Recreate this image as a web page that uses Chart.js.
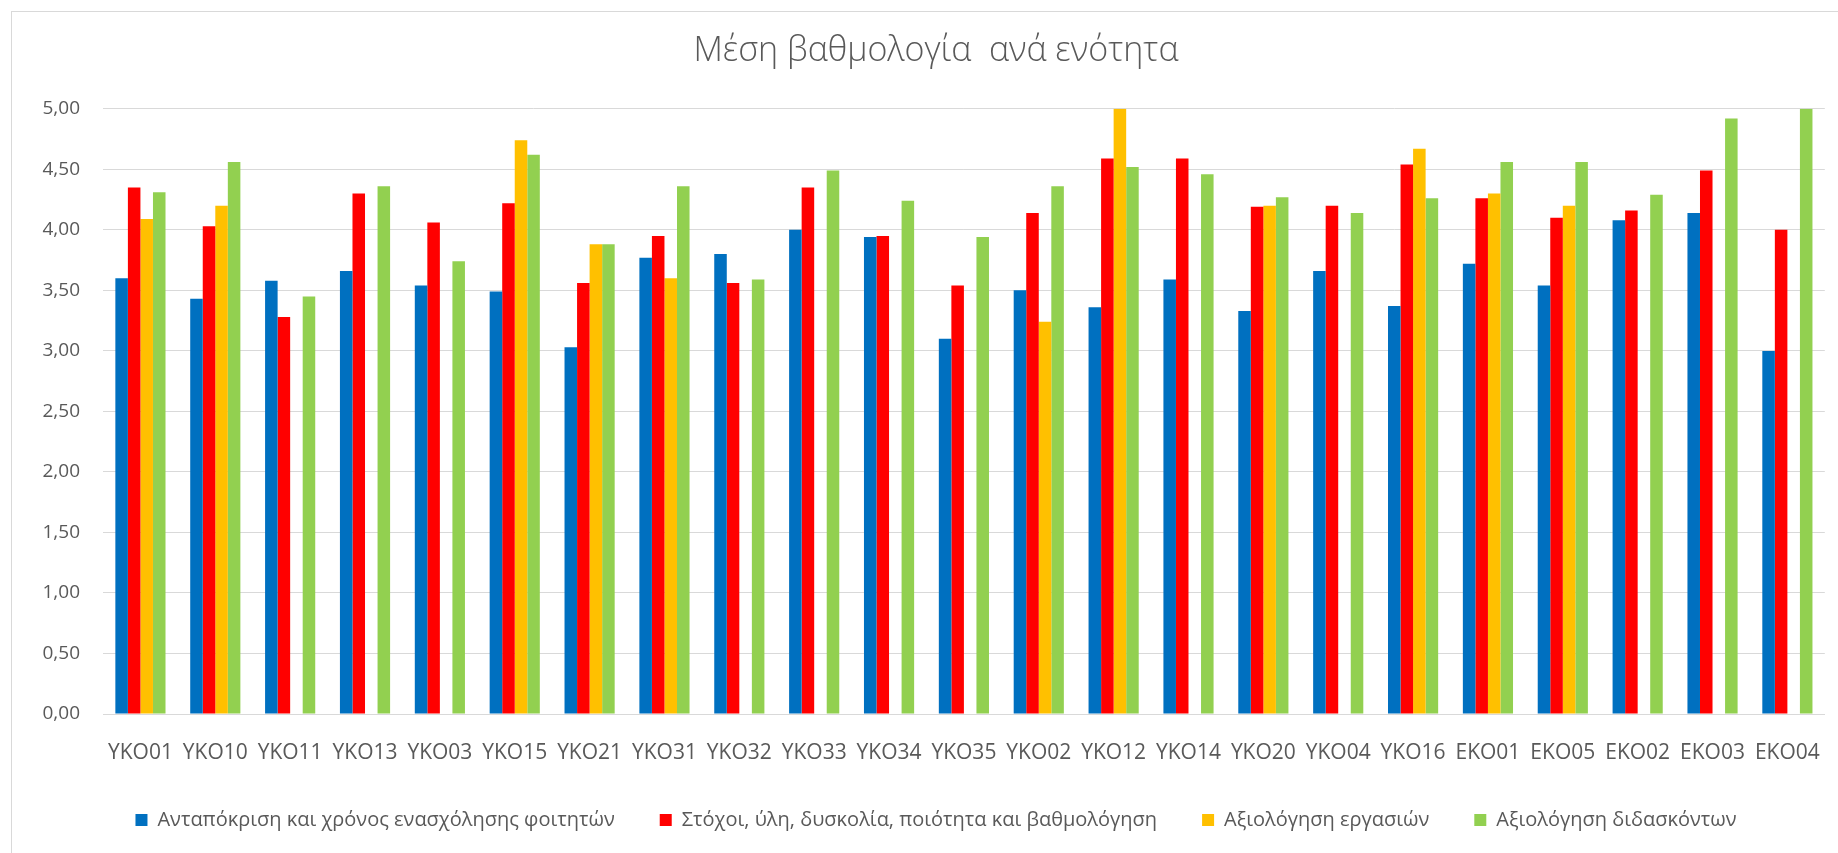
<!DOCTYPE html>
<html>
<head>
<meta charset="utf-8">
<script src="https://cdn.jsdelivr.net/npm/chart.js@4"></script>
<style>
  html, body { margin: 0; padding: 0; background: #ffffff; overflow: hidden; }
  #wrap { position: relative; width: 1838px; height: 853px; }
  #frame { position: absolute; left: 11px; top: 11px; width: 1900px; height: 900px; border: 1px solid #d9d9d9; }
  #chart { position: absolute; left: 0; top: 0; }
</style>
</head>
<body>
<div id="wrap">
  <div id="frame"></div>
  <canvas id="chart" width="1838" height="853"></canvas>
</div>
<script>
const categories = ['YKO01', 'YKO10', 'YKO11', 'YKO13', 'YKO03', 'YKO15', 'YKO21', 'YKO31', 'YKO32', 'YKO33', 'YKO34', 'YKO35',
    'YKO02', 'YKO12', 'YKO14', 'YKO20', 'YKO04', 'YKO16', 'EKO01', 'EKO05', 'EKO02', 'EKO03', 'EKO04'];

const seriesNames = [
    'Ανταπόκριση και χρόνος ενασχόλησης φοιτητών',
    'Στόχοι, ύλη, δυσκολία, ποιότητα και βαθμολόγηση',
    'Αξιολόγηση εργασιών',
    'Αξιολόγηση διδασκόντων'
];

const responseTime = [3.60, 3.43, 3.58, 3.66, 3.54, 3.49, 3.03, 3.77, 3.80, 4.00, 3.94, 3.10,
    3.50, 3.36, 3.59, 3.33, 3.66, 3.37, 3.72, 3.54, 4.08, 4.14, 3.00];
const goalsMaterial = [4.35, 4.03, 3.28, 4.30, 4.06, 4.22, 3.56, 3.95, 3.56, 4.35, 3.95, 3.54,
    4.14, 4.59, 4.59, 4.19, 4.20, 4.54, 4.26, 4.10, 4.16, 4.49, 4.00];
const assignments = [4.09, 4.20, null, null, null, 4.74, 3.88, 3.60, null, null, null, null,
    3.24, 5.00, null, 4.20, null, 4.67, 4.30, 4.20, null, null, null];
const teachers = [4.31, 4.56, 3.45, 4.36, 3.74, 4.62, 3.88, 4.36, 3.59, 4.49, 4.24, 3.94,
    4.36, 4.52, 4.46, 4.27, 4.14, 4.26, 4.56, 4.56, 4.29, 4.92, 5.00];

const colors = ['#0070C0', '#FF0000', '#FFC000', '#92D050'];
const yTicks = [0, 0.5, 1, 1.5, 2, 2.5, 3, 3.5, 4, 4.5, 5];

const textColor = '#595959';
const gridColor = '#d9d9d9';
const font = 'Open Sans';

const ctx = document.getElementById('chart');

const chart = new Chart(ctx, {
    type: 'bar',
    data: {
        labels: categories,
        datasets: [responseTime, goalsMaterial, assignments, teachers].map((values, i) => ({
            label: seriesNames[i],
            data: values,
            backgroundColor: colors[i],
            borderWidth: 0,
            categoryPercentage: 0.67,
            barPercentage: 1.0
        }))
    },
    options: {
        responsive: false,
        animation: false,
        layout: {
            padding: { left: 42, right: 8, top: 0, bottom: 13 }
        },
        plugins: {
            tooltip: { enabled: false },
            title: {
                display: true,
                text: 'Μέση βαθμολογία  ανά ενότητα',
                color: textColor,
                font: { family: font, size: 34, weight: '300' },
                padding: { top: 31, bottom: 37 }
            },
            legend: {
                position: 'bottom',
                labels: {
                    color: textColor,
                    font: { family: font, size: 20 },
                    boxWidth: 12,
                    boxHeight: 12,
                    padding: 45
                }
            }
        },
        scales: {
            x: {
                afterFit: function (scale) { scale.height = 51; },
                grid: { display: false },
                border: { display: true, color: gridColor },
                ticks: {
                    color: textColor,
                    font: { family: font, size: 21 },
                    padding: 18,
                    maxRotation: 0,
                    autoSkip: false
                }
            },
            y: {
                min: 0,
                max: 5,
                afterFit: function (scale) { scale.width = 61; },
                afterBuildTicks: function (scale) {
                    scale.ticks = yTicks.map(v => ({ value: v }));
                },
                grid: { color: gridColor, drawTicks: false },
                border: { display: false },
                ticks: {
                    color: textColor,
                    font: { family: font, size: 19 },
                    padding: 23,
                    callback: function (value) {
                        return value.toFixed(2).replace('.', ',');
                    }
                }
            }
        }
    }
});
</script>
</body>
</html>
